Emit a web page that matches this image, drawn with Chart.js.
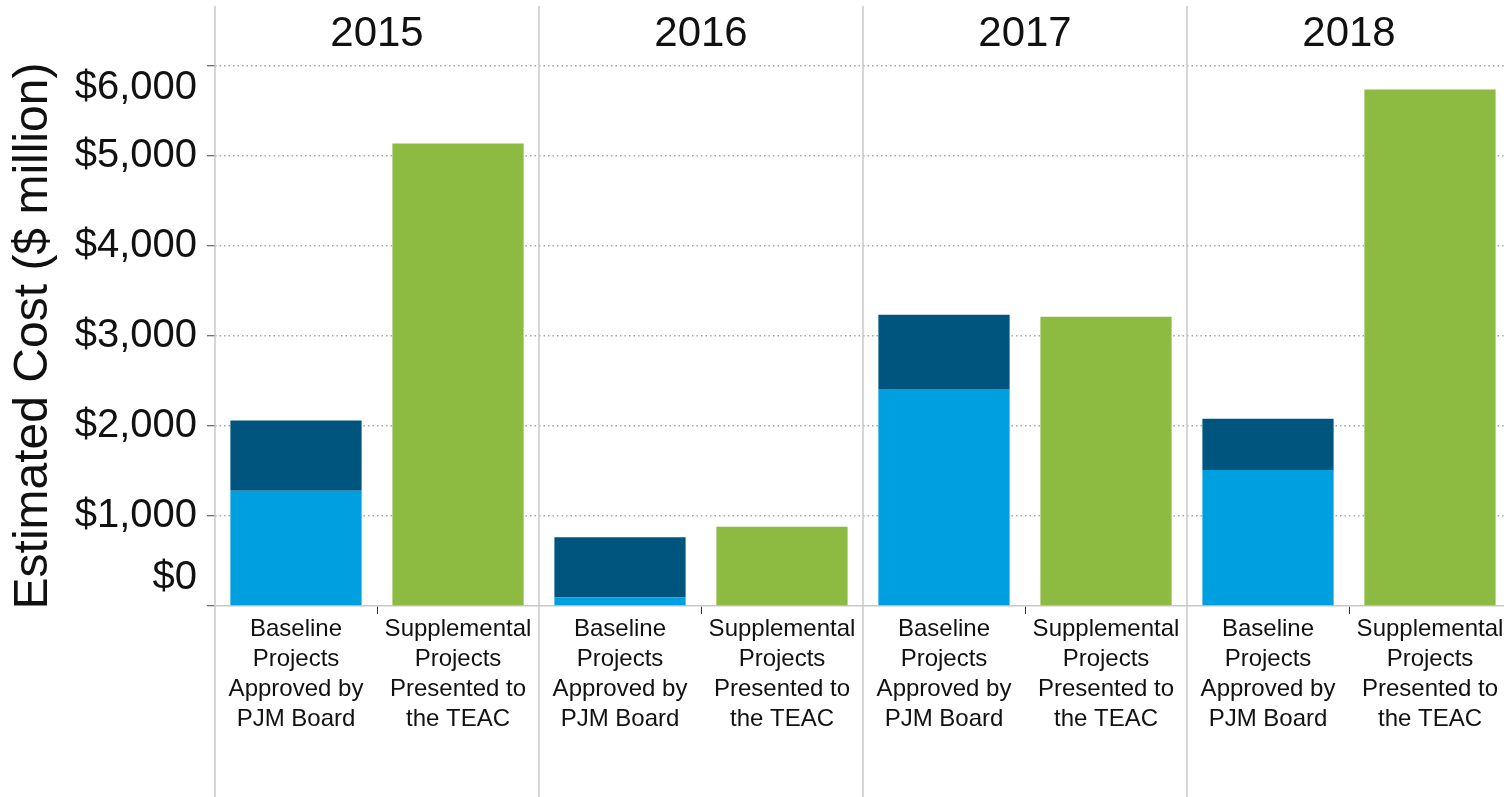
<!DOCTYPE html>
<html>
<head>
<meta charset="utf-8">
<script src="https://cdn.jsdelivr.net/npm/chart.js@4.4.1/dist/chart.umd.min.js"></script>
<style>
  html, body { margin: 0; padding: 0; background: #ffffff; overflow: hidden; }
  #wrap { width: 1504px; height: 797px; position: relative; overflow: hidden; }
  #c { position: absolute; left: 0; top: 0; }
</style>
</head>
<body>
<div id="wrap"><canvas id="c" width="1511" height="797"></canvas></div>
<script>
// ---- data ----
const years = ['2015', '2016', '2017', '2018'];
const baselineLabel = ['Baseline', 'Projects', 'Approved by', 'PJM Board'];
const supplementalLabel = ['Supplemental', 'Projects', 'Presented to', 'the TEAC'];
const baselineLower = [1280, 95, 2410, 1510];      // light blue part
const baselineUpper = [780, 670, 825, 570];        // dark blue part
const supplementalValues = [5140, 880, 3215, 5740];
const yTickValues = [0, 1000, 2000, 3000, 4000, 5000, 6000];
const yTickLabels = ['$0', '$1,000', '$2,000', '$3,000', '$4,000', '$5,000', '$6,000'];

// ---- build category table ----
const categories = [];
const lowerData = [], upperData = [], suppData = [];
years.forEach((y, i) => {
  categories.push(baselineLabel);
  lowerData.push(baselineLower[i]); upperData.push(baselineUpper[i]); suppData.push(null);
  categories.push(supplementalLabel);
  lowerData.push(null); upperData.push(null); suppData.push(supplementalValues[i]);
});

const FONT = '"Liberation Sans", Arial, Helvetica, sans-serif';
const TEXT = '#111111';

const panelPlugin = {
  id: 'panels',
  beforeDatasetsDraw(chart) {
    const s = chart.scales.xTop;
    const ctx = chart.ctx;
    ctx.save();
    ctx.strokeStyle = '#c8c8c8';
    ctx.lineWidth = 1.5;
    for (let i = 0; i < years.length; i++) {
      const x = s.getPixelForValue(i);
      ctx.beginPath();
      ctx.moveTo(x, 6);
      ctx.lineTo(x, chart.height);
      ctx.stroke();
    }
    ctx.restore();
  },
  afterDraw(chart) {
    const ys = chart.scales.y;
    const ca = chart.chartArea;
    const ctx = chart.ctx;
    ctx.save();
    ctx.font = '40px ' + FONT;
    ctx.fillStyle = TEXT;
    ctx.textAlign = 'right';
    ctx.textBaseline = 'middle';
    yTickValues.forEach((v, i) => {
      let p = ys.getPixelForValue(v);
      p = Math.max(p, ca.top + 22);
      p = Math.min(p, ca.bottom - 28);
      ctx.fillText(yTickLabels[i], ys.right - 18, p);
    });
    ctx.restore();
  }
};

new Chart(document.getElementById('c'), {
  type: 'bar',
  data: {
    labels: categories,
    datasets: [
      { label: 'Baseline (lower)', data: lowerData, backgroundColor: '#00A0E0' },
      { label: 'Baseline (upper)', data: upperData, backgroundColor: '#00557F' },
      { label: 'Supplemental', data: suppData, backgroundColor: '#8DBB41' }
    ]
  },
  options: {
    responsive: false,
    devicePixelRatio: 1,
    animation: false,
    layout: { padding: 0 },
    datasets: { bar: { barPercentage: 0.81, categoryPercentage: 1.0, borderWidth: 0 } },
    plugins: { legend: { display: false }, tooltip: { enabled: false }, title: { display: false } },
    scales: {
      x: {
        type: 'category', position: 'bottom', stacked: true, offset: true,
        grid: {
          offset: true, drawOnChartArea: false, drawTicks: true, tickLength: 8, tickWidth: 1,
          tickColor: c => (c.index % 2 === 1) ? '#333333' : 'rgba(0,0,0,0)'
        },
        border: { display: true, color: '#c8c8c8', width: 1.5 },
        ticks: { font: { family: FONT, size: 24, lineHeight: 1.25 }, color: TEXT, padding: 0, maxRotation: 0, autoSkip: false },
        afterFit: s => { s.height = 191; }
      },
      xTop: {
        type: 'linear', position: 'top', min: 0, max: years.length, offset: false,
        afterBuildTicks: s => { s.ticks = years.map((_, i) => ({ value: i + 0.5 })); },
        ticks: { callback: (v, i) => years[i], font: { family: FONT, size: 42 }, color: TEXT, padding: 6, maxRotation: 0, autoSkip: false },
        grid: { display: false, drawTicks: false, offset: false },
        border: { display: false },
        afterFit: s => { s.height = 66; }
      },
      y: {
        stacked: true, min: 0, max: 6000,
        afterBuildTicks: s => { s.ticks = yTickValues.map(v => ({ value: v })); },
        ticks: { display: false },
        grid: {
          color: c => (c.tick && c.tick.value === 0) ? 'rgba(0,0,0,0)' : '#a4a4a4',
          lineWidth: 1.5, drawTicks: true, tickLength: 8, tickWidth: 1, tickColor: '#444444'
        },
        border: { display: false, dash: [1.5, 3] },
        title: { display: true, text: 'Estimated Cost ($ million)', font: { family: FONT, size: 48 }, color: TEXT, padding: { top: 5, bottom: 0 } },
        afterFit: s => { s.width = 215; }
      }
    }
  },
  plugins: [panelPlugin]
});
</script>
</body>
</html>
